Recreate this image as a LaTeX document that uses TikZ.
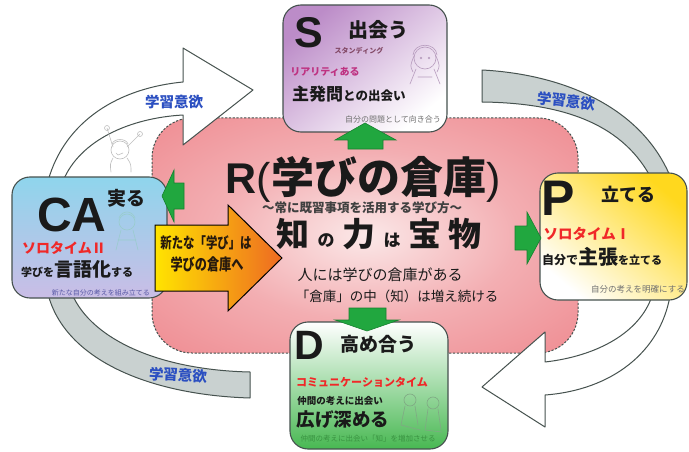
\documentclass[tikz,border=0pt]{standalone}
\usepackage{fontspec}
\setmainfont{Noto Sans CJK JP}
\newfontfamily\lat{Liberation Sans}
\newcommand\fsz[1]{\fontsize{#1}{#1}\selectfont}

\definecolor{pinkout}{HTML}{EE848A}
\definecolor{pinkmid}{HTML}{F3AEB2}
\definecolor{pinkin}{HTML}{FBE8E8}
\definecolor{edge}{HTML}{46524F}
\definecolor{bandgray}{HTML}{C9D1D0}
\definecolor{labelblue}{HTML}{2B4FC1}
\definecolor{sred}{HTML}{F02828}
\definecolor{grn}{HTML}{21A73F}
\definecolor{grnedge}{HTML}{17812F}
\definecolor{spurple}{HTML}{BC8CC8}
\definecolor{cablue}{HTML}{8FD5EC}
\definecolor{calav}{HTML}{CABDE6}
\definecolor{pyellow}{HTML}{FFD81E}
\definecolor{dgreen}{HTML}{48B852}
\definecolor{oyellow}{HTML}{FFE400}
\definecolor{oorange}{HTML}{EE6A22}
\definecolor{ink}{HTML}{1A1A1A}
\definecolor{note}{HTML}{707070}

\pgfdeclareradialshading{pinkglow}{\pgfpoint{0bp}{0bp}}{%
  color(0bp)=(pinkin); color(18bp)=(pinkmid); color(40bp)=(pinkout); color(50bp)=(pinkout)}

\tikzset{
  box/.style={draw=edge, line width=1.1pt, rounded corners=18pt},
  band/.style={draw=edge, line width=1pt, line join=round},
  garrow/.style={fill=grn, draw=grnedge, line width=0.6pt, line join=miter},
  lbl/.style={text=labelblue, font=\bfseries\fsz{14.5}, inner sep=0pt},
  txt/.style={inner sep=0pt, text=ink},
  big/.style={inner sep=0pt, text=ink, text depth=0pt, font=\lat\bfseries\fsz{#1}},
  note/.style={inner sep=0pt, text=note, font=\fsz{8}},
  sketch/.style={line width=0.6pt, line cap=round, line join=round}
}

\begin{document}
\begin{tikzpicture}[x=1pt,y=-1pt]
\useasboundingbox (0,0) rectangle (689,452);
\fill[white] (0,0) rectangle (689,452);

% central store of learning
\path[shading=pinkglow, draw=edge, dash pattern=on 2.2pt off 1.6pt, line width=1pt,
      rounded corners=40pt] (152,118) rectangle (578,353);

% cycle bands
\draw[band, fill=white] (48,181) .. controls (65,120) and (120,88) .. (183,82)
  -- (183,48) -- (253,90) -- (183,145) -- (183,115)
  .. controls (130,118) and (80,140) .. (63,181) -- cycle;
\draw[band, fill=bandgray] (482,70) .. controls (560,74) and (640,105) .. (670,176)
  -- (650,176) .. controls (620,122) and (560,103) .. (482,102) -- cycle;
\draw[band, fill=white] (652,296) -- (670,296) .. controls (660,352) and (612,390) .. (545,395)
  -- (545,427) -- (482,387) -- (545,332) -- (545,362)
  .. controls (598,356) and (640,332) .. (652,296) -- cycle;
\draw[band, fill=bandgray] (48,294) .. controls (65,360) and (150,395) .. (250,398)
  -- (250,372) .. controls (160,370) and (92,340) .. (72,294) -- cycle;

\node[lbl] (m1) at (174,102) {学習意欲};
\node[lbl, rotate=-6] (m2) at (566,101) {学習意欲};
\node[lbl, rotate=-3] (m3) at (178,375) {学習意欲};

% child with raised arms
\begin{scope}[sketch, draw=black!25]
  \draw (120,150) circle (9);
  \draw (112,144) .. controls (114,138) and (126,138) .. (128,144);
  \draw (113,147) -- (107,128) (107,128) circle (2.5);
  \draw (127,147) -- (140,134) (140,134) circle (2.5);
  \draw (116,153) -- (118,155) -- (123,153);
  \draw (113,158) .. controls (110,164) .. (111,172) (127,158) .. controls (131,164) .. (131,172);
\end{scope}

% stage boxes
\path[box, top color=spurple, bottom color=white, shading angle=40] (283,5) rectangle (447,132);
\path[box, top color=cablue, bottom color=calav] (12,177) rectangle (167,298);
\path[box, top color=pyellow, bottom color=white, shading angle=-40] (540,173) rectangle (687,300);
\path[box, top color=white, middle color=dgreen!28!white, bottom color=dgreen] (290,322) rectangle (448,449);

% faint figures inside the boxes
\begin{scope}[sketch, draw=spurple!80!black!70]
  \draw (425,58) circle (11);
  \draw (413,55) .. controls (414,42) and (436,42) .. (437,55);
  \draw (414,56) .. controls (410,66) .. (413,72) (436,56) .. controls (440,66) .. (437,72);
  \draw (421,58) circle (1) (429,58) circle (1);
  \draw (416,69) -- (410,84) (434,69) -- (440,84) (418,77) -- (432,77);
\end{scope}
\begin{scope}[sketch, draw=teal!40]
  \draw (127,222) circle (8);
  \draw (119,218) .. controls (122,210) and (132,210) .. (135,218);
  \draw (121,230) -- (116,250) (133,230) -- (138,250) (118,240) -- (136,240);
\end{scope}
\begin{scope}[sketch, draw=dgreen!60!black!60]
  \draw (410,400) circle (6) (433,403) circle (6);
  \draw (405,406) -- (401,425) (415,406) -- (418,425) (401,425) -- (420,430);
  \draw (428,409) -- (425,430) (438,409) -- (441,430) (425,430) -- (442,432);
\end{scope}

% arrow into the store
\path[draw=black, line width=1pt, left color=oyellow, right color=oorange, line join=miter]
  (155,225) -- (228,225) -- (228,205) -- (282,258) -- (228,311) -- (228,291) -- (155,291) -- cycle;
\node[txt, xscale=0.76, font=\bfseries\fsz{15}, text=black!80!brown] (o1) at (206,243) {新たな「学び」は};
\node[txt, xscale=0.76, font=\bfseries\fsz{16}, text=black!80!brown] (o2) at (207,264) {学びの倉庫へ};

% green arrows out of the store
\draw[garrow] (348,149) -- (348,140) -- (335,140) -- (365,123) -- (396,140) -- (383,140) -- (383,149) -- cycle;
\draw[garrow] (184,183) -- (174,183) -- (174,170) -- (162,196) -- (174,222) -- (174,209) -- (184,209) -- cycle;
\draw[garrow] (515,226) -- (527,226) -- (527,212) -- (541,238) -- (527,264) -- (527,250) -- (515,250) -- cycle;
\draw[garrow] (349,308) -- (386,308) -- (386,320) -- (399,320) -- (367,331) -- (335,320) -- (349,320) -- cycle;

% S
\node[big=43] (s0) at (309,32) {S};
\node[txt, font=\bfseries\fsz{20}] (s1) at (378,30) {出会う};
\node[txt, font=\bfseries\fsz{7}, text=black!55!magenta] (s2) at (359,51) {スタンディング};
\node[txt, font=\bfseries\fsz{10}, text=magenta!75!black] (s3) at (325,72) {リアリティある};
\node[txt, anchor=base west, font=\bfseries] (s4) at (292,100) {{\fsz{17}主発問}{\fsz{12.5}との出会い}};
\node[note] (s5) at (393,119) {自分の問題として向き合う};

% CA
\node[txt, font=\bfseries\fsz{14}, text=sred] (c2) at (64,248) {ソロタイムⅡ};
\node[big=48] (c0) at (72,215) {CA};
\node[txt, font=\bfseries\fsz{19}] (c1) at (126,198) {実る};
\node[txt, anchor=base west, font=\bfseries] (c3) at (21,276) {{\fsz{11}学びを}{\fsz{19}言語化}{\fsz{11}する}};
\node[note, font=\fsz{7}, text=blue!30!gray] (c4) at (101,293) {新たな自分の考えを組み立てる};

% P
\node[big=50] (p0) at (558,198) {P};
\node[txt, font=\bfseries\fsz{18}] (p1) at (628,194) {立てる};
\node[txt, font=\bfseries\fsz{14.5}, text=sred] (p2) at (587,234) {ソロタイムⅠ};
\node[txt, anchor=base west, font=\bfseries] (p3) at (542,264) {{\fsz{12}自分で}{\fsz{20}主張}{\fsz{11}を立てる}};
\node[note, font=\fsz{8.5}] (p4) at (638,289) {自分の考えを明確にする};

% D
\node[big=41] (d0) at (309,345) {D};
\node[txt, font=\bfseries\fsz{19}] (d1) at (378,344) {高め合う};
\node[txt, font=\bfseries\fsz{11}, text=sred] (d2) at (362,382) {コミュニケーションタイム};
\node[txt, font=\bfseries\fsz{9.5}] (d3) at (340,401) {仲間の考えに出会い};
\node[txt, font=\bfseries\fsz{18.5}] (d4) at (343,420) {広げ深める};
\node[note, font=\fsz{7.5}, text=dgreen!80!black] (d5) at (368,439) {仲間の考えに出会い「知」を増加させる};

% R
\node[txt, font=\bfseries\fsz{43}] (r0) at (363,179) {{\lat R}{\lat\mdseries (}学びの倉庫{\lat\mdseries )}};
\node[txt, font=\bfseries\fsz{12.5}, text=black!75] (r1) at (362,208) {〜常に既習事項を活用する学び方〜};
\node[txt, anchor=base, font=\bfseries] (r2) at (379,246)
  {{\fsz{33}知}\hspace{8pt}{\fsz{17}の}\hspace{8pt}{\fsz{33}力}\hspace{8pt}{\fsz{17}は}\hspace{8pt}{\fsz{33}宝}\hspace{7pt}{\fsz{33}物}};
\node[txt, font=\fsz{15}] (r3) at (380,275) {人には学びの倉庫がある};
\node[txt, font=\fsz{13.5}] (r4) at (397,296) {「倉庫」の中（知）は増え続ける};
\end{tikzpicture}
\end{document}
